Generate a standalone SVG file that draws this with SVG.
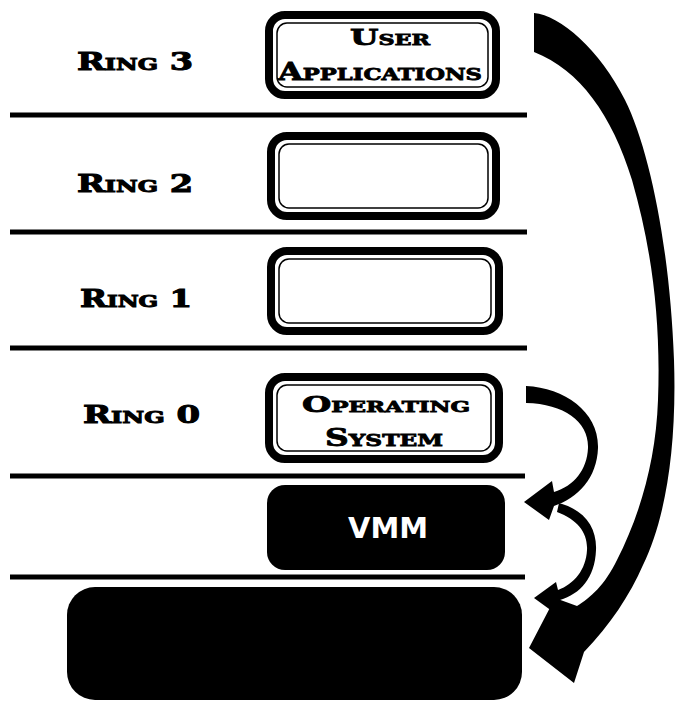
<svg xmlns="http://www.w3.org/2000/svg" width="676" height="704" viewBox="0 0 676 704">
<style>
.bg{fill:#ffffff}
.sep{stroke:#000;stroke-width:5;fill:none}
.ring{font-family:"DejaVu Serif",serif;font-weight:bold;font-size:24px;font-variant:small-caps;fill:#000;stroke:#000;stroke-width:1}
.box{fill:#fff;stroke:#000;stroke-width:8}
.inner{fill:none;stroke:#000;stroke-width:1.5}
.boxtxt{font-family:"DejaVu Serif",serif;font-weight:bold;font-variant:small-caps;fill:#000;stroke:#000;stroke-width:0.8;text-anchor:middle}
.dark{fill:#000}
.vmm{font-family:"DejaVu Sans",sans-serif;font-weight:bold;font-size:28px;fill:#fff;text-anchor:middle}
.arrow{fill:#000}
</style>
<rect class="bg" x="0" y="0" width="676" height="704"/>
<g id="separators">
<line class="sep" x1="10" y1="115" x2="527" y2="115"/>
<line class="sep" x1="10" y1="232" x2="527" y2="232"/>
<line class="sep" x1="10" y1="348" x2="527" y2="348"/>
<line class="sep" x1="10" y1="476" x2="525" y2="476"/>
<line class="sep" x1="10" y1="577" x2="525" y2="577"/>
</g>
<g id="labels">
<text class="ring" x="77" y="70" textLength="116" lengthAdjust="spacingAndGlyphs">Ring 3</text>
<text class="ring" x="77" y="192" textLength="116" lengthAdjust="spacingAndGlyphs">Ring 2</text>
<text class="ring" x="80" y="307" textLength="112" lengthAdjust="spacingAndGlyphs">Ring 1</text>
<text class="ring" x="83" y="423" textLength="117" lengthAdjust="spacingAndGlyphs">Ring 0</text>
</g>
<g id="node-ring3">
<rect class="box" x="269" y="15" width="227" height="80" rx="16"/>
<rect class="inner" x="277" y="23" width="211" height="64" rx="10"/>
<text class="boxtxt" x="390" y="45" font-size="22" textLength="80" lengthAdjust="spacingAndGlyphs">User</text>
<text class="boxtxt" x="380" y="80" font-size="24" textLength="204" lengthAdjust="spacingAndGlyphs">Applications</text>
</g>
<g id="node-ring2">
<rect class="box" x="271" y="136" width="225" height="80" rx="16"/>
<rect class="inner" x="279" y="144" width="209" height="64" rx="10"/>
</g>
<g id="node-ring1">
<rect class="box" x="271" y="251" width="228" height="80" rx="16"/>
<rect class="inner" x="279" y="259" width="212" height="64" rx="10"/>
</g>
<g id="node-ring0">
<rect class="box" x="269" y="377" width="230" height="82" rx="16"/>
<rect class="inner" x="277" y="385" width="214" height="66" rx="10"/>
<text class="boxtxt" x="386" y="412" font-size="22" textLength="168" lengthAdjust="spacingAndGlyphs">Operating</text>
<text class="boxtxt" x="384" y="446" font-size="24" textLength="118" lengthAdjust="spacingAndGlyphs">System</text>
</g>
<g id="node-vmm">
<rect class="dark" x="267" y="485" width="238" height="85" rx="18"/>
<text class="vmm" x="388" y="538" textLength="80" lengthAdjust="spacingAndGlyphs">VMM</text>
</g>
<g id="node-hardware">
<rect class="dark" x="67" y="587" width="455" height="113" rx="28"/>
</g>
<g id="connectors">
<path class="arrow" d="M534,13 C560,15 600,50 625,100 C650,150 670,250 674,360 C677,450 665,520 643,565 C630,595 610,625 584,652 L574,683 L529,648 L555,598 L577,606 C590,598 605,585 617,560 C640,515 656,460 658,400 C661,320 652,250 632,180 C612,115 580,70 534,52 Z"/>
<path class="arrow" d="M526,386 C565,388 599,412 598,448 C597,478 578,498 554,506 L549,520 L524,502 L552,481 L554,492 C574,486 587,470 588,448 C589,422 565,404 526,403 Z"/>
<path class="arrow" d="M559,503 C585,510 597,528 596,550 C595,578 580,594 560,600 L556,614 L534,598 L556,582 L558,590 C574,584 586,570 587,550 C588,533 578,520 557,512 Z"/>
</g>
</svg>
